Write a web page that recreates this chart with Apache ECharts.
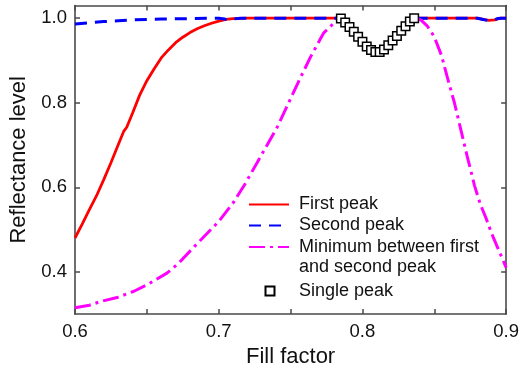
<!DOCTYPE html>
<html>
<head>
<meta charset="utf-8">
<script src="https://cdn.jsdelivr.net/npm/echarts@6/dist/echarts.min.js"></script>
<style>html,body{margin:0;padding:0;background:#fff;}#c{width:522px;height:373px;}</style>
</head>
<body>
<div id="c"></div>
<script>
// ---- data ----
var firstX = [0.600,0.605,0.610,0.615,0.620,0.625,0.630,0.634,0.636,0.640,0.645,0.650,0.655,0.660,0.665,0.670,0.675,0.680,0.685,0.690,0.695,0.700,0.705,0.710,0.720,0.740,0.760,0.785,0.810,0.837,0.860,0.880,0.884,0.888,0.892,0.896,0.900];
var firstY = [0.480,0.513,0.547,0.580,0.618,0.658,0.700,0.733,0.742,0.775,0.818,0.852,0.880,0.906,0.925,0.942,0.955,0.966,0.975,0.982,0.988,0.993,0.997,0.999,1.000,1.000,1.000,1.000,null,1.000,1.000,1.000,0.997,0.995,0.996,1.000,1.000];

var secondX = [0.600,0.610,0.620,0.630,0.640,0.650,0.660,0.680,0.700,0.704,0.707,0.710,0.715,0.740,0.760,0.785,0.810,0.837,0.860,0.880,0.884,0.888,0.891,0.894,0.897,0.900];
var secondY = [0.986,0.989,0.992,0.994,0.996,0.997,0.998,0.999,1.000,0.998,0.995,0.998,1.000,1.000,1.000,1.000,null,1.000,1.000,1.000,0.997,0.994,0.995,0.999,1.000,1.000];

var minX = [0.600,0.610,0.618,0.630,0.641,0.650,0.664,0.672,0.682,0.690,0.700,0.710,0.718,0.727,0.741,0.748,0.755,0.764,0.773,0.780,0.784,0.810,0.838,0.841,0.845,0.850,0.855,0.859,0.864,0.868,0.873,0.878,0.882,0.886,0.890,0.895,0.900];
var minY = [0.315,0.321,0.330,0.340,0.354,0.369,0.397,0.420,0.456,0.484,0.519,0.563,0.606,0.660,0.744,0.795,0.846,0.909,0.965,0.988,1.000,null,1.000,0.995,0.982,0.956,0.912,0.861,0.800,0.743,0.672,0.604,0.560,0.527,0.490,0.450,0.410];

var singleX = [0.785,0.788,0.791,0.794,0.797,0.800,0.803,0.806,0.809,0.812,0.815,0.818,0.821,0.824,0.827,0.830,0.833,0.836];
var singleY = [0.999,0.990,0.979,0.968,0.956,0.944,0.933,0.925,0.920,0.920,0.926,0.936,0.947,0.958,0.970,0.981,0.992,1.000];

var xTickLabels = ['0.6','0.7','0.8','0.9'];
var yTickValues = [0.4,0.6,0.8,1.0];

var seriesNames = ['First peak','Second peak','Minimum between first and second peak','Single peak'];

function zip(xs, ys){ return xs.map(function(x,i){ return [x, ys[i]]; }); }

var FONT = 'Liberation Sans';
var AX = '#4a4a4a';

var chart = echarts.init(document.getElementById('c'), null, {renderer:'canvas'});

function legendBase(name, top, left, extra){
  var l = {
    show:true, orient:'vertical', left:left, top:top, padding:0,
    data:[name], selectedMode:false,
    itemWidth:40, itemHeight:14,
    itemStyle:{opacity:0},
    textStyle:{fontFamily:FONT, fontSize:18, color:'#111', lineHeight:20, padding:[0,0,0,5]}
  };
  if (extra) for (var k in extra) l[k] = extra[k];
  return l;
}

var option = {
  animation:false,
  backgroundColor:'#fff',
  grid:{left:73, right:10, top:5.5, bottom:58.7, containLabel:false},
  xAxis:[{
    type:'value', min:0.6, max:0.9, interval:0.05, position:'bottom',
    name:'Fill factor', nameLocation:'middle', nameGap:31,
    nameTextStyle:{fontFamily:FONT, fontSize:22, color:'#111'},
    axisLine:{show:true, lineStyle:{color:AX, width:1.6}},
    axisTick:{show:true, inside:true, length:5, lineStyle:{color:AX, width:1.5}},
    axisLabel:{show:true, margin:8, fontFamily:FONT, fontSize:18.5, color:'#111',
      formatter:function(v){ return (Math.round(v*100)%10===0) ? xTickLabels[Math.round((v-0.6)*10)] : ''; }},
    splitLine:{show:false}
  },{
    type:'value', min:0.6, max:0.9, interval:0.05, position:'top',
    axisLine:{show:true, lineStyle:{color:AX, width:1.6}},
    axisTick:{show:true, inside:true, length:5, lineStyle:{color:AX, width:1.5}},
    axisLabel:{show:false}, splitLine:{show:false}
  }],
  yAxis:[{
    type:'value', min:0.3, max:1.03, position:'left',
    name:'Reflectance level', nameLocation:'middle', nameGap:45,
    nameTextStyle:{fontFamily:FONT, fontSize:22, color:'#111'},
    axisLine:{show:true, lineStyle:{color:AX, width:1.6}},
    axisTick:{show:true, inside:true, length:5, customValues:yTickValues, lineStyle:{color:AX, width:1.5}},
    axisLabel:{show:true, margin:8, fontFamily:FONT, fontSize:18.5, color:'#111', customValues:yTickValues,
      formatter:function(v){ return v.toFixed(1); }},
    splitLine:{show:false}
  },{
    type:'value', min:0.3, max:1.03, position:'right',
    axisLine:{show:true, lineStyle:{color:AX, width:1.6}},
    axisTick:{show:true, inside:true, length:5, customValues:yTickValues, lineStyle:{color:AX, width:1.5}},
    axisLabel:{show:false}, splitLine:{show:false}
  }],
  legend:[
    legendBase(seriesNames[0], 194.5, 248),
    legendBase(seriesNames[1], 215.5, 248),
    legendBase(seriesNames[2], 217, 248, {formatter:function(){ return '\nMinimum between first\nand second peak'; }}),
    legendBase(seriesNames[3], 281, 264.5, {itemWidth:9, itemHeight:9, icon:'rect',
      itemStyle:{color:'#fff', borderColor:'#000', borderWidth:2, opacity:1},
      textStyle:{fontFamily:FONT, fontSize:18, color:'#111', lineHeight:20, padding:[0,0,0,19.5]}})
  ],
  series:[
    {name:seriesNames[0], type:'line', data:zip(firstX, firstY), symbol:'none', smooth:false, connectNulls:false,
      lineStyle:{color:'#ff0000', width:2.8}, itemStyle:{color:'#ff0000'}, z:2},
    {name:seriesNames[1], type:'line', data:zip(secondX, secondY), symbol:'none', connectNulls:false,
      lineStyle:{color:'#0000ff', width:3, type:[12,8]}, itemStyle:{color:'#0000ff'}, z:3},
    {name:seriesNames[2], type:'line', data:zip(minX, minY), symbol:'none', connectNulls:false,
      lineStyle:{color:'#ff00ff', width:3, type:[16,5,3,5]}, itemStyle:{color:'#ff00ff'}, z:4},
    {name:seriesNames[3], type:'scatter', data:zip(singleX, singleY), symbol:'rect', symbolSize:8.5,
      itemStyle:{color:'#fff', borderColor:'#000', borderWidth:1.5, opacity:1}, z:5}
  ]
};
chart.setOption(option);
</script>
</body>
</html>
